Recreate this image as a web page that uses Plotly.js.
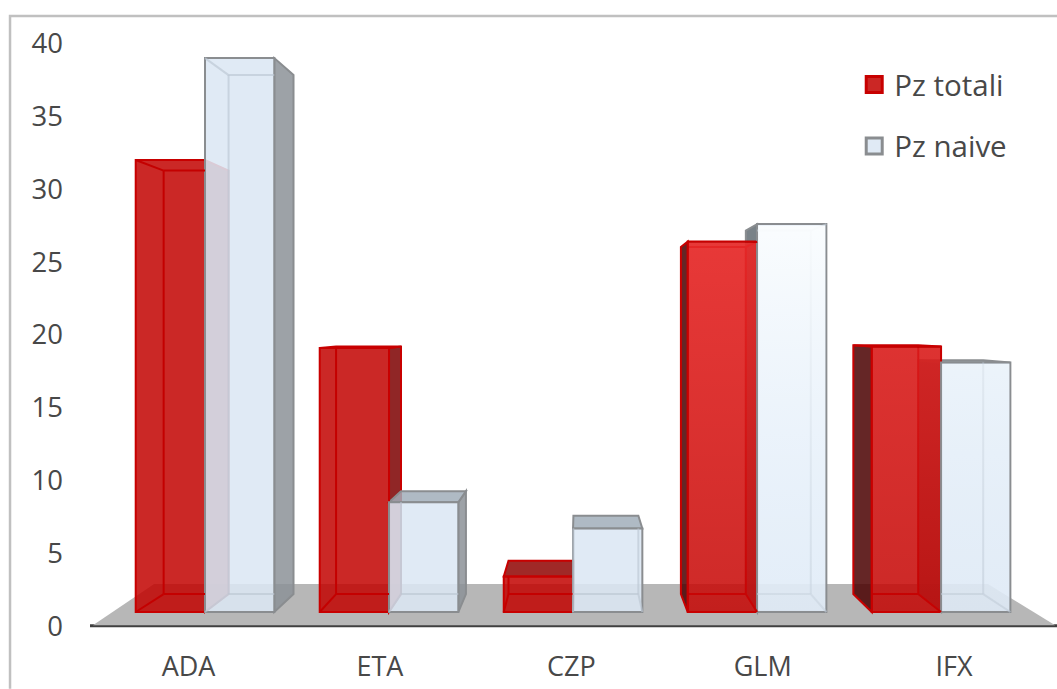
<!DOCTYPE html>
<html>
<head>
<meta charset="utf-8">
<script src="https://cdn.plot.ly/plotly-3.0.1.min.js"></script>
<style>html,body{margin:0;padding:0;background:#fff}#chart{width:1057px;height:689px}</style>
</head>
<body>
<div id="chart"></div>
<script>
// Patients per biologic drug, drawn as boxes in one-point perspective.
const categories = ['ADA', 'ETA', 'CZP', 'GLM', 'IFX'];
const pzTotali = [32, 19.1, 3.4, 26.4, 19.2];
const pzNaive = [39, 8.5, 6.7, 27.6, 18.1];
const seriesNames = ['Pz totali', 'Pz naive'];
const yTicks = [0, 5, 10, 15, 20, 25, 30, 35, 40];

// Box geometry, in axis units.
const FLOOR_Y = 0.96;          // value at which the front faces stand
const BAR_W = 0.3766;          // width of one front face
const VANISH_X = 2.033, VANISH_Y = 20.53, DEPTH = 0.937;
const LABEL_SPREAD = 1.04;     // category labels sit on the nearer floor edge
const LABEL_SHIFT = -0.008;
const TXT = '#484848', FONT = '"Open Sans", sans-serif';

const backX = x => VANISH_X + DEPTH * (x - VANISH_X);
const backY = y => VANISH_Y + DEPTH * (y - VANISH_Y);
const poly = pts => 'M' + pts.map(p => p[0] + ' ' + p[1]).join(' L') + ' Z';

const styles = [
  { front: 'rgba(194,2,0,0.85)', edge: '#C80000', inner: '#C40000', edgeW: 2,
    left: 'rgba(74,0,0,0.85)', right: 'rgba(125,0,0,0.85)', top: 'rgba(143,4,1,0.85)' },
  { front: 'rgba(220,231,244,0.88)', edge: '#8A8D90', inner: 'rgba(188,198,210,0.65)', edgeW: 2,
    left: 'rgba(98,108,115,0.85)', right: 'rgba(140,146,152,0.85)', top: 'rgba(161,174,186,0.85)' }
];

// Outer walls go under the translucent front faces; hidden edges are kept
// inside the front rectangle so that they never cross the neighbouring box.
function boxParts(i, s, value) {
  const st = styles[s];
  const x0 = i + (s === 0 ? -BAR_W : 0), x1 = x0 + BAR_W;
  const y0 = FLOOR_Y, y1 = value;
  const bx0 = backX(x0), bx1 = backX(x1), by0 = backY(y0), by1 = backY(y1);
  const walls = [];
  const wall = (pts, fill) => walls.push({
    type: 'path', xref: 'x', yref: 'y', layer: 'below', path: poly(pts),
    fillcolor: fill, line: { color: st.edge, width: st.edgeW }
  });
  if (bx0 < x0) wall([[x0, y0], [x0, y1], [bx0, by1], [bx0, by0]], st.left);
  if (bx1 > x1) wall([[x1, y0], [x1, y1], [bx1, by1], [bx1, by0]], st.right);
  if (by1 > y1) wall([[x0, y1], [x1, y1], [bx1, by1], [bx0, by1]], st.top);

  const ex = [], ey = [];
  const seg = (a, b, c, d) => { ex.push(a, c, null); ey.push(b, d, null); };
  const clampX = v => Math.min(x1, Math.max(x0, v));
  if (by1 <= y1) seg(clampX(bx0), by1, clampX(bx1), by1);
  seg(clampX(bx0), by0, clampX(bx1), by0);
  if (bx0 >= x0) seg(bx0, by0, bx0, Math.min(by1, y1));
  if (bx1 <= x1) seg(bx1, by0, bx1, Math.min(by1, y1));
  if (bx0 >= x0) seg(x0, y0, bx0, by0);
  if (bx1 <= x1) seg(x1, y0, bx1, by0);
  if (bx0 >= x0 && by1 <= y1) seg(x0, y1, bx0, by1);
  if (bx1 <= x1 && by1 <= y1) seg(x1, y1, bx1, by1);
  return { walls, ex, ey, x0, x1 };
}

const values = [pzTotali, pzNaive];
const shapes = [];
const traces = [];

// Grey floor plane.
shapes.push({
  type: 'path', xref: 'x', yref: 'y', layer: 'below',
  path: poly([[-0.609, 0.05], [-0.277, 2.88], [4.255, 2.88], [4.62, 0.05]]),
  fillcolor: '#B7B7B7', line: { width: 0 }
});

// Baseline under the floor.
shapes.push({
  type: 'line', xref: 'paper', yref: 'paper', layer: 'below',
  x0: 0, x1: 1, y0: 0.0005, y1: 0.0005, line: { color: '#404040', width: 3 }
});

// Chart frame along the left and top edges.
shapes.push({
  type: 'path', xref: 'paper', yref: 'paper', layer: 'below',
  path: 'M-0.0827 -0.105 L-0.0827 1.0218 L1 1.0218',
  line: { color: '#C0C0C0', width: 2.5 }, fillcolor: 'rgba(0,0,0,0)'
});

const xs = categories.map((c, i) => i);
values.forEach((vals, s) => {
  const st = styles[s];
  traces.push({
    type: 'bar', x: xs, y: vals.map(v => v - FLOOR_Y), base: vals.map(() => FLOOR_Y),
    width: BAR_W, offset: s === 0 ? -BAR_W : 0,
    marker: { color: st.front, line: { color: st.edge, width: st.edgeW } },
    showlegend: false, hoverinfo: 'skip'
  });
});

// Walls and the edges seen through the front faces.
values.forEach((vals, s) => {
  const ex = [], ey = [];
  vals.forEach((v, i) => {
    const p = boxParts(i, s, v);
    shapes.push(...p.walls);
    ex.push(...p.ex); ey.push(...p.ey);
  });
  traces.push({
    type: 'scatter', mode: 'lines', x: ex, y: ey,
    line: { color: styles[s].inner, width: 2 },
    showlegend: false, hoverinfo: 'skip', connectgaps: false
  });
});

// Lighter sheen on the two right-hand groups, over their hidden edges.
const sheen = [
  { i: 3, s: 0, top: 'rgba(255,70,70,0.55)', low: 'rgba(255,70,70,0.05)' },
  { i: 3, s: 1, top: 'rgba(252,254,255,0.92)', low: 'rgba(235,245,255,0.3)' },
  { i: 4, s: 0, top: 'rgba(255,70,70,0.35)', low: 'rgba(255,70,70,0.02)' },
  { i: 4, s: 1, top: 'rgba(245,251,255,0.55)', low: 'rgba(235,245,255,0.15)' }
];
sheen.forEach(g => {
  const v = values[g.s][g.i];
  const x0 = g.i + (g.s === 0 ? -BAR_W : 0) + 0.006, x1 = x0 + BAR_W - 0.012;
  const y0 = FLOOR_Y + 0.1, y1 = v - 0.1;
  traces.push({
    type: 'scatter', mode: 'lines', x: [x0, x1, x1, x0, x0], y: [y0, y0, y1, y1, y0],
    line: { width: 0 }, fill: 'toself', showlegend: false, hoverinfo: 'skip',
    fillgradient: { type: 'vertical', start: y0, stop: y1,
      colorscale: [[0, g.low], [1, g.top]] }
  });
});

// Legend entries.
seriesNames.forEach((name, s) => {
  traces.push({
    type: 'scatter', mode: 'markers', name: name, x: [null], y: [null], legendgroup: name,
    marker: { symbol: 'square', size: 16, color: s === 0 ? '#CB2725' : '#E0EAF5',
      line: { color: s === 0 ? '#C80000' : '#8A8D90', width: 3 } }
  });
});

const layout = {
  width: 1057, height: 689,
  margin: { l: 90, r: 0, t: 29, b: 63, pad: 0 },
  paper_bgcolor: '#fff', plot_bgcolor: 'rgba(0,0,0,0)',
  font: { family: FONT, color: TXT, size: 26 },
  barmode: 'overlay',
  showlegend: true,
  legend: {
    x: 0.7903, y: 0.95, xanchor: 'left', yanchor: 'top',
    bgcolor: 'rgba(0,0,0,0)', itemsizing: 'trace', tracegroupgap: 20,
    traceorder: 'grouped', font: { family: FONT, color: TXT, size: 29.5 }
  },
  xaxis: {
    range: [-0.625, 4.63], showgrid: false, zeroline: false, fixedrange: true,
    showline: false,
    tickmode: 'array',
    tickvals: categories.map((c, i) => VANISH_X + LABEL_SPREAD * (i - VANISH_X) + LABEL_SHIFT),
    ticktext: categories, ticks: '', ticklabelstandoff: 22,
    tickfont: { family: FONT, color: TXT, size: 27 }
  },
  yaxis: {
    range: [0, 41], showgrid: false, zeroline: false, fixedrange: true, showline: false,
    tickmode: 'array', tickvals: yTicks, ticks: '', ticklabelstandoff: 26,
    tickfont: { family: FONT, color: TXT, size: 27.5 }
  },
  shapes: shapes
};

Plotly.newPlot('chart', traces, layout, { displayModeBar: false, staticPlot: true });
</script>
</body>
</html>
